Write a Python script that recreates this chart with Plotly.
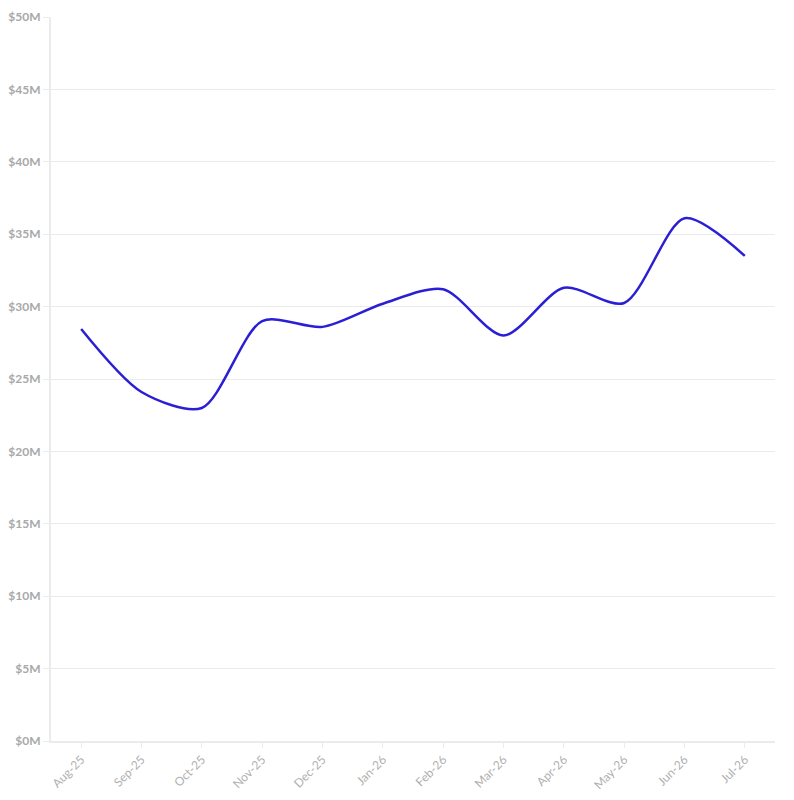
import plotly.graph_objs as go

months = ["Aug-25", "Sep-25", "Oct-25", "Nov-25", "Dec-25", "Jan-26",
          "Feb-26", "Mar-26", "Apr-26", "May-26", "Jun-26", "Jul-26"]
values = [28.45, 24.1, 23.0, 29.0, 28.6, 30.2,
          31.2, 28.0, 31.3, 30.25, 36.1, 33.5]  # $ millions

tick_vals = [0, 5, 10, 15, 20, 25, 30, 35, 40, 45, 50]
tick_text = [f"${v}M" for v in tick_vals]

line_colour = "#2a1fd4"
grid_colour = "#ebebeb"

fig = go.Figure(
    go.Scatter(
        x=months,
        y=values,
        mode="lines",
        line=dict(color=line_colour, width=2.5, shape="spline", smoothing=0.8),
        hoverinfo="x+y",
    )
)

fig.update_xaxes(
    type="category",
    range=[-0.5, len(months) - 0.5],
    tickangle=-45,
    ticks="outside",
    ticklen=5,
    tickcolor=grid_colour,
    showgrid=False,
    showline=True,
    linecolor=grid_colour,
    linewidth=2,
    automargin=False,
    tickfont=dict(family="Lato", size=12, color="#b0b0b0"),
)
fig.update_yaxes(
    range=[0, 50],
    tickvals=tick_vals,
    ticktext=tick_text,
    ticks="outside",
    ticklen=6,
    tickcolor=grid_colour,
    showgrid=True,
    gridcolor=grid_colour,
    gridwidth=1,
    zeroline=False,
    showline=True,
    linecolor=grid_colour,
    linewidth=2,
    automargin=False,
    tickfont=dict(family="Lato", size=12, color="#a8a8a8", weight="bold"),
)
# the page body adds an 8px offset, so the figure is sized to fit inside it
fig.update_layout(
    width=778,
    height=784,
    margin=dict(l=43, r=11, t=9, b=51, autoexpand=False),
    plot_bgcolor="white",
    paper_bgcolor="white",
    showlegend=False,
)

fig.write_html("out.html")
